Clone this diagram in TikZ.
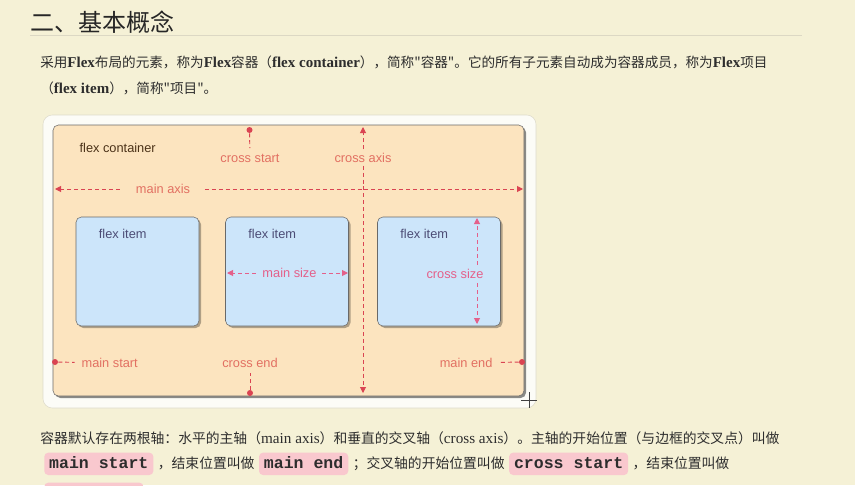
\documentclass[tikz,border=0pt]{standalone}
\usepackage{fontspec}
\setmainfont{Liberation Serif}
\setsansfont{Liberation Sans}
\setmonofont{Liberation Mono}
\newfontfamily\cjk{Noto Sans CJK SC}
\usepackage{tikz}
\usetikzlibrary{arrows.meta,positioning}
\usepackage{xcolor}
\definecolor{pagebg}{RGB}{245,241,214}
\definecolor{rulegray}{RGB}{220,216,196}
\definecolor{textgray}{RGB}{45,45,45}
\definecolor{framewhite}{RGB}{252,252,247}
\definecolor{frameline}{RGB}{222,219,203}
\definecolor{boxpeach}{RGB}{252,228,191}
\definecolor{itemblue}{RGB}{204,229,250}
\definecolor{edgegray}{RGB}{105,105,105}
\definecolor{labelred}{RGB}{226,112,98}
\definecolor{axisred}{RGB}{218,68,82}
\definecolor{sizepink}{RGB}{228,96,138}
\definecolor{codepink}{RGB}{249,200,206}
\newcommand{\en}[1]{{\rmfamily\bfseries\fontsize{11.25}{12}\selectfont #1}}
\newcommand{\lat}[1]{{\rmfamily\fontsize{11.4}{12}\selectfont #1}}
\tikzset{
    title/.style={font={\cjk\fontsize{18}{20}\selectfont}, text=black!85, inner sep=0pt, anchor=base west},
    body/.style={font={\cjk\fontsize{10.2}{12}\selectfont}, text=textgray, inner sep=0pt, anchor=base west},
    bodyb/.style={body, font={\cjk\fontsize{10.35}{12}\selectfont}},
    code/.style={font={\ttfamily\bfseries\fontsize{12.4}{14}\selectfont}, text=textgray, fill=codepink, rounded corners=3pt,
                 inner xsep=3.7pt, inner ysep=1pt, text height=10.5pt, text depth=4.25pt, anchor=base west},
    item/.style={rectangle, draw=edgegray, fill=itemblue, rounded corners=4pt, minimum width=92.25pt, minimum height=81.75pt},
    itemshade/.style={rectangle, fill=black, opacity=0.3, rounded corners=4pt, minimum width=92.25pt, minimum height=81.75pt},
    itemlbl/.style={font={\sffamily\fontsize{9.6}{11}\selectfont}, text=black!60!blue!40!gray, inner sep=1pt},
    boxlbl/.style={font={\sffamily\fontsize{9.6}{11}\selectfont}, text=black!60!brown, inner sep=1pt},
    lbl/.style={font={\sffamily\fontsize{9.6}{11}\selectfont}, text=labelred, inner sep=1pt},
    sizelbl/.style={font={\sffamily\fontsize{9.6}{11}\selectfont}, text=sizepink, inner sep=1pt},
    axis/.style={draw=axisred, line width=0.7pt, dash pattern=on 3pt off 2.2pt},
    sizeaxis/.style={draw=sizepink, line width=0.7pt, dash pattern=on 3pt off 2.2pt},
    tip/.style={-{Triangle[length=4.5pt,width=4.5pt]}},
    dot/.style={circle, fill=axisred, inner sep=0pt, minimum size=4.5pt},
}

\begin{document}
\begin{tikzpicture}[x=0.75pt, y=-0.75pt]
    \useasboundingbox (0,0) rectangle (855,485);
    \clip (0,0) rectangle (855,485);
    \fill[pagebg] (0,0) rectangle (855,485);

    % heading and text
    \node[title] (ttl) at (30,32) {二、基本概念};
    \draw[rulegray, line width=0.6pt] (30,35) -- (802,35);
    \node[body] (p1) at (40,68) {采用\en{Flex}布局的元素，称为\en{Flex}容器（\en{flex container}），简称"容器"。它的所有子元素自动成为容器成员，称为\en{Flex}项目};
    \node[body] (p2) at (40,93) {（\en{flex item}），简称"项目"。};

    % container
    \fill[framewhite, draw=frameline, rounded corners=7pt] (43,115) rectangle (536,408);
    \fill[black, opacity=0.45, rounded corners=4pt] (55,127) rectangle (526,398);
    \draw[edgegray, fill=boxpeach, rounded corners=4pt] (53,125) rectangle (524,396);
    \node[boxlbl, anchor=west] (fc) at (78,148) {flex container};

    % items
    \foreach \cx/\name in {137.5/itA, 287/itB, 439/itC} {
        \node[itemshade] at (\cx+2,273.5) {};
        \node[item] (\name) at (\cx,271.5) {};
        \node[itemlbl] (\name-l) at ([shift={(47,17)}]\name.north west) {flex item};
    }

    % main axis
    \coordinate (maL) at (55,189);
    \coordinate (maR) at (523,189);
    \node[lbl] (maxis) at (163,189) {main axis};
    \draw[axis, tip, shorten <=11pt] (maxis.west) -- (maL);
    \draw[axis, tip, shorten <=10pt] (maxis.east) -- (maR);

    % cross axis
    \coordinate (caT) at (363,127);
    \coordinate (caB) at (363,393);
    \node[lbl] (caxis) at (363,158) {cross axis};
    \draw[axis, tip, shorten <=2pt] (caxis.north) -- (caT);
    \draw[axis, tip, shorten <=1pt] (caxis.south) -- (caB);

    % start and end
    \node[dot] (csdot) at (249.5,130) {};
    \node[lbl] (cstart) at (250,158) {cross start};
    \draw[axis, shorten >=3pt] (csdot) -- (cstart);
    \node[dot] (msdot) at (55,362) {};
    \node[lbl, anchor=west] (mstart) at (80,363) {main start};
    \draw[axis, shorten >=4pt] (msdot) -- (mstart);
    \node[dot] (cedot) at (250,393) {};
    \node[lbl] (cend) at (250,363) {cross end};
    \draw[axis, shorten >=3pt] (cedot) -- (cend);
    \node[dot] (medot) at (522,362) {};
    \node[lbl, anchor=east] (mend) at (494,363) {main end};
    \draw[axis, shorten >=5pt] (medot) -- (mend);

    % sizes
    \coordinate (szL) at (227,273);
    \coordinate (szR) at (348,273);
    \node[sizelbl] (msize) at (289.5,273) {main size};
    \draw[sizeaxis, tip, shorten <=4pt] (msize.west) -- (szL);
    \draw[sizeaxis, tip, shorten <=3pt] (msize.east) -- (szR);
    \coordinate (csT) at (477,218);
    \coordinate (csB) at (477,324);
    \node[sizelbl] (csize) at (455,274) {cross size};
    \draw[sizeaxis, tip] (csT |- csize.north) ++(0,-3) -- (csT);
    \draw[sizeaxis, tip] (csB |- csize.south) ++(0,3) -- (csB);

    % cursor
    \draw[black!75, line width=0.5pt] (521,400) -- (537,400) (529,392) -- (529,408);

    % bottom text
    \node[bodyb] (q1) at (40,443) {容器默认存在两根轴：水平的主轴（\lat{main axis}）和垂直的交叉轴（\lat{cross axis}）。主轴的开始位置（与边框的交叉点）叫做};
    \node[code] (cms) at (44,468) {main start};
    \node[bodyb] (q2) at ([xshift=3pt]cms.base east) {，结束位置叫做};
    \node[code] (cme) at ([xshift=3pt]q2.base east) {main end};
    \node[bodyb] (q3) at ([xshift=3pt]cme.base east) {；交叉轴的开始位置叫做};
    \node[code] (ccs) at ([xshift=3pt]q3.base east) {cross start};
    \node[bodyb] (q4) at ([xshift=3pt]ccs.base east) {，结束位置叫做};
    \node[code] (cce) at (44,498) {cross end};
\end{tikzpicture}
\end{document}
